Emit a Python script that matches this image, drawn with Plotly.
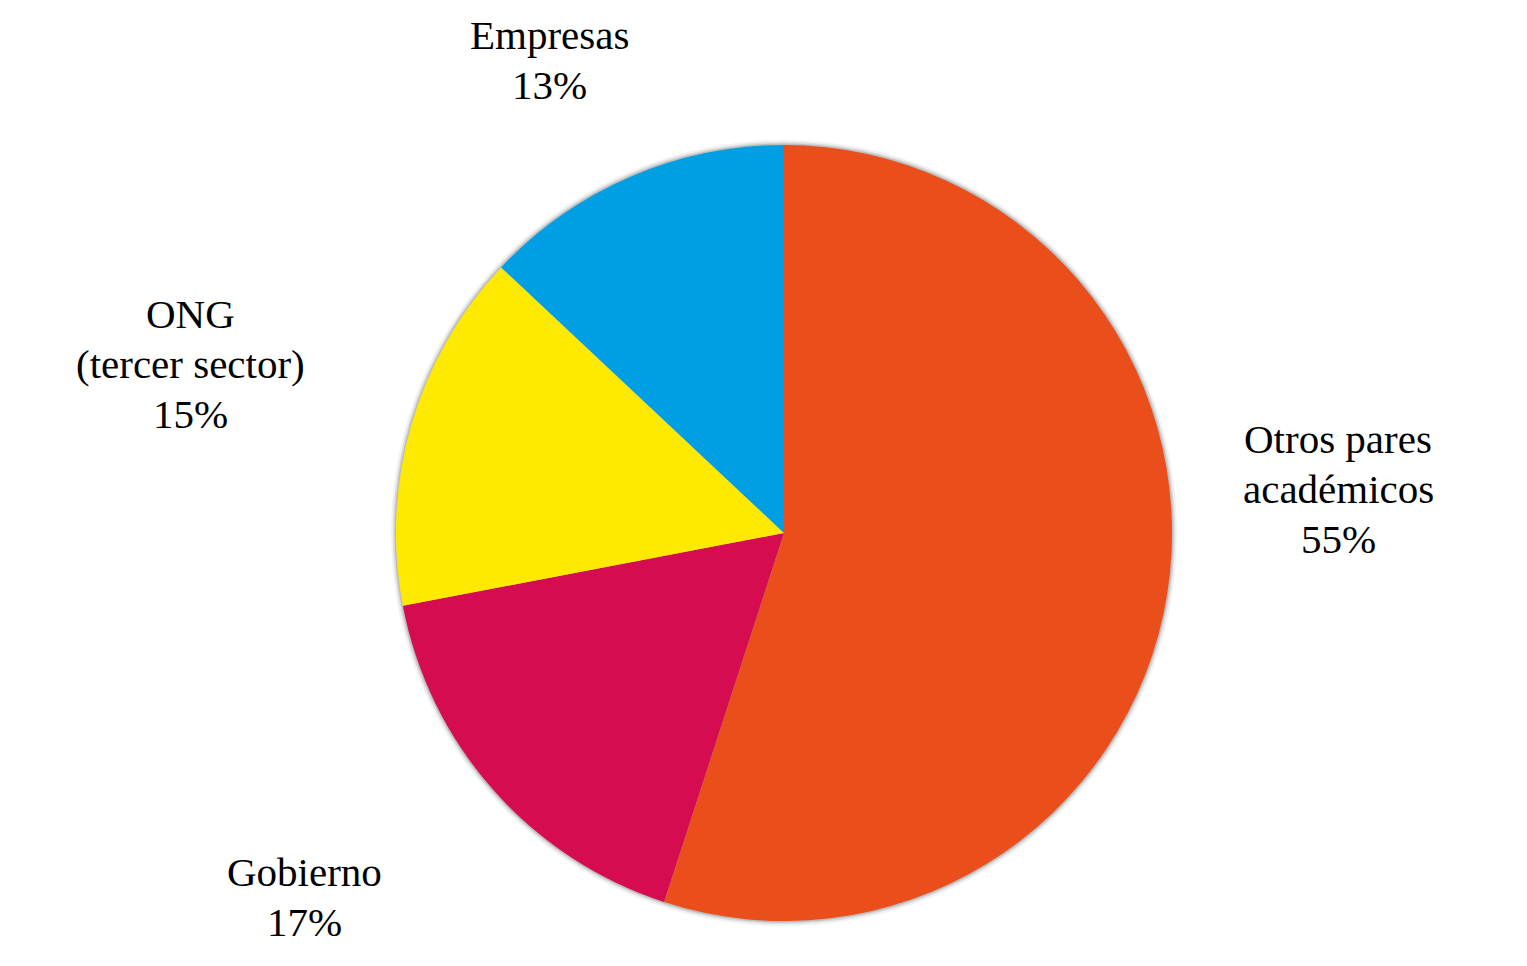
import plotly.graph_objects as go

categories = ["Otros pares<br>académicos", "Gobierno", "ONG<br>(tercer sector)", "Empresas"]
values = [55, 17, 15, 13]
colors = ["#E94E1B", "#D50C4F", "#FDEA00", "#009FE3"]

W, H = 1527, 966
OFF = 8  # page body margin offset
cx, cy, r = 784 - OFF, 533 - OFF, 388

fig = go.Figure()
fig.add_trace(go.Pie(
    labels=categories,
    values=values,
    sort=False,
    direction="clockwise",
    rotation=0,
    marker=dict(colors=colors, line=dict(width=0)),
    textinfo="none",
    hoverinfo="label+percent",
    showlegend=False,
    domain=dict(x=[(cx - r) / W, (cx + r) / W], y=[(H - cy - r) / H, (H - cy + r) / H]),
))

# soft shadow ring behind pie
for d, op in [(5, 0.10), (3, 0.18), (1.5, 0.30)]:
    fig.add_shape(type="circle", xref="paper", yref="paper", layer="below",
                  x0=(cx - r - d) / W, x1=(cx + r + d) / W,
                  y0=(H - cy - r - d) / H, y1=(H - cy + r + d) / H,
                  fillcolor=f"rgba(120,120,120,{op})", line=dict(width=0))

# label block centres (x, first-line y) in reference pixels
label_pos = [(1338, 439), (304, 872), (190, 314), (549, 35)]
LINE = 50
for cat, v, (lx, ly) in zip(categories, values, label_pos):
    lines = cat.split("<br>") + [f"{v}%"]
    for i, line in enumerate(lines):
        fig.add_annotation(text=line, x=(lx - OFF) / W, y=1 - (ly - OFF + i * LINE) / H,
                           xref="paper", yref="paper",
                           xanchor="center", yanchor="middle", showarrow=False, align="center",
                           font=dict(family="Liberation Serif", size=41, color="#000000"))

fig.update_layout(width=W, height=H, margin=dict(l=0, r=0, t=0, b=0),
                  paper_bgcolor="white", plot_bgcolor="white")
fig.write_html("out.html")
